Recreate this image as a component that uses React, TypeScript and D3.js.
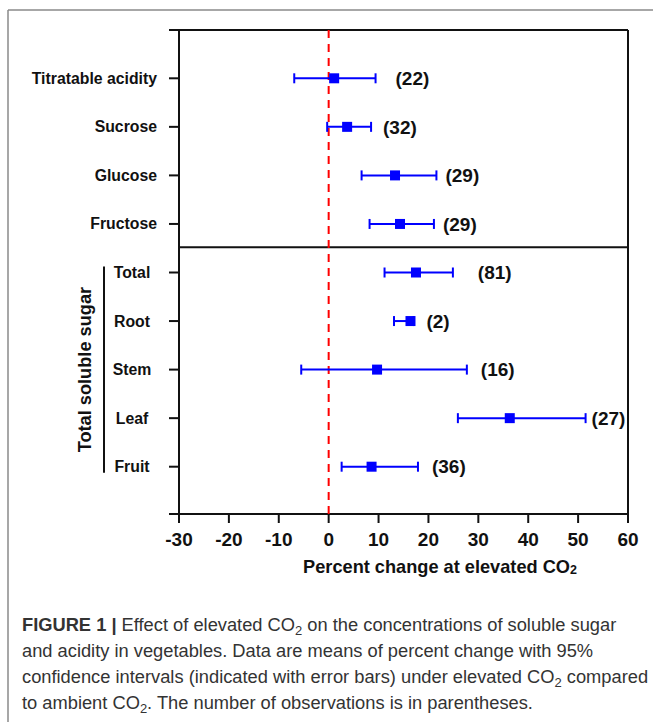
import React from "react";
import * as d3 from "d3";

const categories = ["Titratable acidity", "Sucrose", "Glucose", "Fructose", "Total", "Root", "Stem", "Leaf", "Fruit"];
const groupOf = ["top", "top", "top", "top", "sugar", "sugar", "sugar", "sugar", "sugar"];
const means = [1.1, 3.7, 13.3, 14.3, 17.5, 16.4, 9.7, 36.3, 8.6];
const lower = [-6.9, -0.3, 6.6, 8.2, 11.2, 13.1, -5.5, 25.9, 2.6];
const upper = [9.4, 8.5, 21.6, 21.1, 24.9, 17.0, 27.7, 51.5, 17.9];
const counts = [22, 32, 29, 29, 81, 2, 16, 27, 36];
const countLabelAt = [13.4, 10.9, 23.4, 22.9, 29.9, 19.6, 30.5, 52.7, 20.7];
const xTicks = [-30, -20, -10, 0, 10, 20, 30, 40, 50, 60];
const xDomain = [-30, 60];
const groupTitle = "Total soluble sugar";

const BOLD = "'Liberation Sans', Arial, Helvetica, sans-serif";
const CAP = "'Liberation Sans', Arial, Helvetica, sans-serif";

export default function App() {
  const left = 179, right = 628, top = 30, bottom = 514;
  const x = d3.scaleLinear().domain(xDomain).range([left, right]);
  const y = d3.scalePoint<string>().domain(categories).range([78.3, 466.7]);
  const divY = ((y("Fructose") as number) + (y("Total") as number)) / 2 - 1;
  const sugarRows = categories.filter((_, i) => groupOf[i] === "sugar");
  const bTop = (y(sugarRows[0]) as number) - 6;
  const bBot = (y(sugarRows[sugarRows.length - 1]) as number) + 6;
  const blue = "#0000ff";
  const capH = 5;
  const ms = 10;

  return (
    <svg width={653} height={722} style={{ position: "absolute", left: 0, top: 0, background: "#fff" }}>
      {/* outer frame */}
      <line x1={8} y1={10} x2={653} y2={10} stroke="#8a8a8a" strokeWidth={1.5} />
      <line x1={8} y1={10} x2={8} y2={722} stroke="#8a8a8a" strokeWidth={1.5} />

      {/* plot box */}
      <line x1={left - 10} y1={top} x2={right} y2={top} stroke="#111" strokeWidth={2} />
      <line x1={left - 10} y1={bottom} x2={right} y2={bottom} stroke="#111" strokeWidth={2} />
      <line x1={left} y1={top} x2={left} y2={bottom + 9} stroke="#111" strokeWidth={2} />
      <line x1={right} y1={top} x2={right} y2={bottom + 9} stroke="#111" strokeWidth={2} />
      <line x1={left} y1={divY} x2={right} y2={divY} stroke="#111" strokeWidth={2} />

      {/* x ticks */}
      {xTicks.map((t) => (
        <g key={t}>
          <line x1={x(t)} x2={x(t)} y1={bottom} y2={bottom + 9} stroke="#111" strokeWidth={2} />
          <text x={x(t)} y={bottom + 32} textAnchor="middle" fontFamily={BOLD} fontWeight="bold" fontSize={19} fill="#111">
            {t}
          </text>
        </g>
      ))}
      <text x={440} y={573} textAnchor="middle" fontFamily={BOLD} fontWeight="bold" fontSize={18.2} fill="#111">
        Percent change at elevated CO<tspan fontSize={12.5} dy={1}>2</tspan>
      </text>

      {/* zero line */}
      <line x1={x(0)} x2={x(0)} y1={top} y2={bottom} stroke="#ff0000" strokeWidth={2} strokeDasharray="8,6" />

      {/* y ticks & labels */}
      {categories.map((c, i) => {
        const yy = y(c) as number;
        const isTop = groupOf[i] === "top";
        return (
          <g key={c}>
            <line x1={left - 10} x2={left} y1={yy} y2={yy} stroke="#111" strokeWidth={2} />
            <text
              x={isTop ? 157 : 132}
              y={yy}
              dy="0.35em"
              textAnchor={isTop ? "end" : "middle"}
              fontFamily={BOLD}
              fontWeight="bold"
              fontSize={15.8}
              fill="#111"
            >
              {c}
            </text>
          </g>
        );
      })}

      {/* group bracket & title */}
      <line x1={104} x2={104} y1={bTop} y2={bBot} stroke="#111" strokeWidth={2} />
      <text
        transform={`translate(91,${(bTop + bBot) / 2}) rotate(-90)`}
        textAnchor="middle"
        fontFamily={BOLD}
        fontWeight="bold"
        fontSize={18.2}
        fill="#111"
      >
        {groupTitle}
      </text>

      {/* error bars */}
      {categories.map((c, i) => {
        const yy = y(c) as number;
        return (
          <g key={c + "-bar"}>
            <line x1={x(lower[i])} x2={x(upper[i])} y1={yy} y2={yy} stroke={blue} strokeWidth={2} />
            <line x1={x(lower[i])} x2={x(lower[i])} y1={yy - capH} y2={yy + capH} stroke={blue} strokeWidth={2} />
            <line x1={x(upper[i])} x2={x(upper[i])} y1={yy - capH} y2={yy + capH} stroke={blue} strokeWidth={2} />
            <rect x={x(means[i]) - ms / 2} y={yy - ms / 2} width={ms} height={ms} fill={blue} />
            <text x={x(countLabelAt[i])} y={yy} dy="0.35em" fontFamily={BOLD} fontWeight="bold" fontSize={19} fill="#111">
              ({counts[i]})
            </text>
          </g>
        );
      })}

      {/* caption */}
      <g fontFamily={CAP} fontSize={18.3} fill="#333">
        <text x={22} y={631}>
          <tspan fontWeight="bold">FIGURE 1 | </tspan>Effect of elevated CO<tspan fontSize={13} dy={4}>2</tspan>
          <tspan dy={-4}> on the concentrations of soluble sugar</tspan>
        </text>
        <text x={22} y={657}>and acidity in vegetables. Data are means of percent change with 95%</text>
        <text x={22} y={683}>
          confidence intervals (indicated with error bars) under elevated CO<tspan fontSize={13} dy={4}>2</tspan>
          <tspan dy={-4}> compared</tspan>
        </text>
        <text x={22} y={709}>
          to ambient CO<tspan fontSize={13} dy={4}>2</tspan>
          <tspan dy={-4}>. The number of observations is in parentheses.</tspan>
        </text>
      </g>
    </svg>
  );
}
